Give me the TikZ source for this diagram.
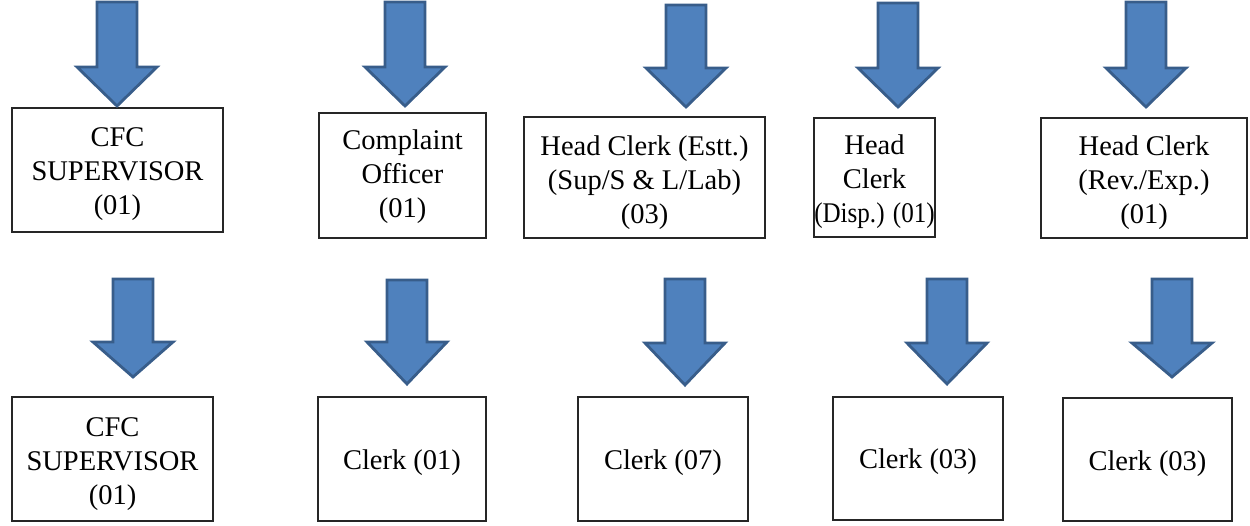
\documentclass[tikz,border=0pt]{standalone}
\usepackage{fontspec}
\setmainfont{Liberation Serif}
\newfontfamily\boxfont{Liberation Serif}
\definecolor{arrowfill}{RGB}{79,129,189}
\definecolor{arrowline}{RGB}{56,93,138}
\tikzset{
  box/.style={draw=black!85, line width=1.3pt, fill=white, inner sep=0pt},
  lbl/.style={inner sep=0pt, align=center, font=\boxfont\fontsize{28.5}{34}\selectfont},
  blockarrow/.style={fill=arrowfill, draw=arrowline, line width=2.8pt, line join=miter}
}
% \barrow{name}{cx}{ytop}{yhead}{ytip}
\newcommand{\barrow}[5]{%
  \coordinate (#1tail) at (#2,#3);
  \coordinate (#1) at (#2,#5);
  \draw[blockarrow] (#2-20,#3) -- (#2+20,#3) -- (#2+20,#4) -- (#2+40,#4) -- (#1) -- (#2-40,#4) -- (#2-20,#4) -- cycle;}
\begin{document}
\begin{tikzpicture}[x=1pt,y=-1pt]
\useasboundingbox (0,0) rectangle (1250,525);
% top row boxes
\node[box, minimum width=211, minimum height=124] (t1) at (117.5,170) {};
\node[box, minimum width=167, minimum height=125] (t2) at (402.5,175.5) {};
\node[box, minimum width=241, minimum height=121] (t3) at (644.5,177.5) {};
\node[box, minimum width=121, minimum height=119] (t4) at (874.5,177.5) {};
\node[box, minimum width=206, minimum height=120] (t5) at (1144,178) {};
\node[lbl] (t1l) at ([yshift=-4]t1.center) {CFC\\SUPERVISOR\\(01)};
\node[lbl] (t2l) at ([yshift=-1.5]t2.center) {Complaint\\Officer\\(01)};
\node[lbl] (t3l) at ([yshift=-5]t3.center) {Head Clerk (Estt.)\\(Sup/S \& L/Lab)\\(03)};
\node[lbl] (t4l) at ([yshift=-4.5]t4.center) {Head\\Clerk\\\scalebox{0.88}[1]{(Disp.) (01)}};
\node[lbl] (t5l) at ([yshift=-5]t5.center) {Head Clerk\\(Rev./Exp.)\\(01)};
% bottom row boxes
\node[box, minimum width=201, minimum height=124] (b1) at (112.5,459) {};
\node[box, minimum width=168, minimum height=124] (b2) at (402,459) {};
\node[box, minimum width=170, minimum height=124] (b3) at (663,459) {};
\node[box, minimum width=170, minimum height=123] (b4) at (918,458.5) {};
\node[box, minimum width=169, minimum height=123] (b5) at (1147.5,459.5) {};
\node[lbl] (b1l) at ([yshift=-5]b1.center) {CFC\\SUPERVISOR\\(01)};
\node[lbl] (b2l) at ([yshift=-4]b2.center) {Clerk (01)};
\node[lbl] (b3l) at ([yshift=-4]b3.center) {Clerk (07)};
\node[lbl] (b4l) at ([yshift=-3]b4.center) {Clerk (03)};
\node[lbl] (b5l) at ([yshift=-4]b5.center) {Clerk (03)};
% top arrows
\barrow{ta1}{117}{2}{67}{106}
\barrow{ta2}{405}{2}{67}{106}
\barrow{ta3}{686}{5}{68}{107}
\barrow{ta4}{898}{3}{68}{107}
\barrow{ta5}{1146}{2}{68}{107}
% bottom arrows
\barrow{ba1}{133}{279}{342}{377}
\barrow{ba2}{407}{280}{342}{384}
\barrow{ba3}{685}{279}{343}{385}
\barrow{ba4}{947}{279}{343}{384}
\barrow{ba5}{1172}{279}{343}{377}
\end{tikzpicture}
\end{document}
